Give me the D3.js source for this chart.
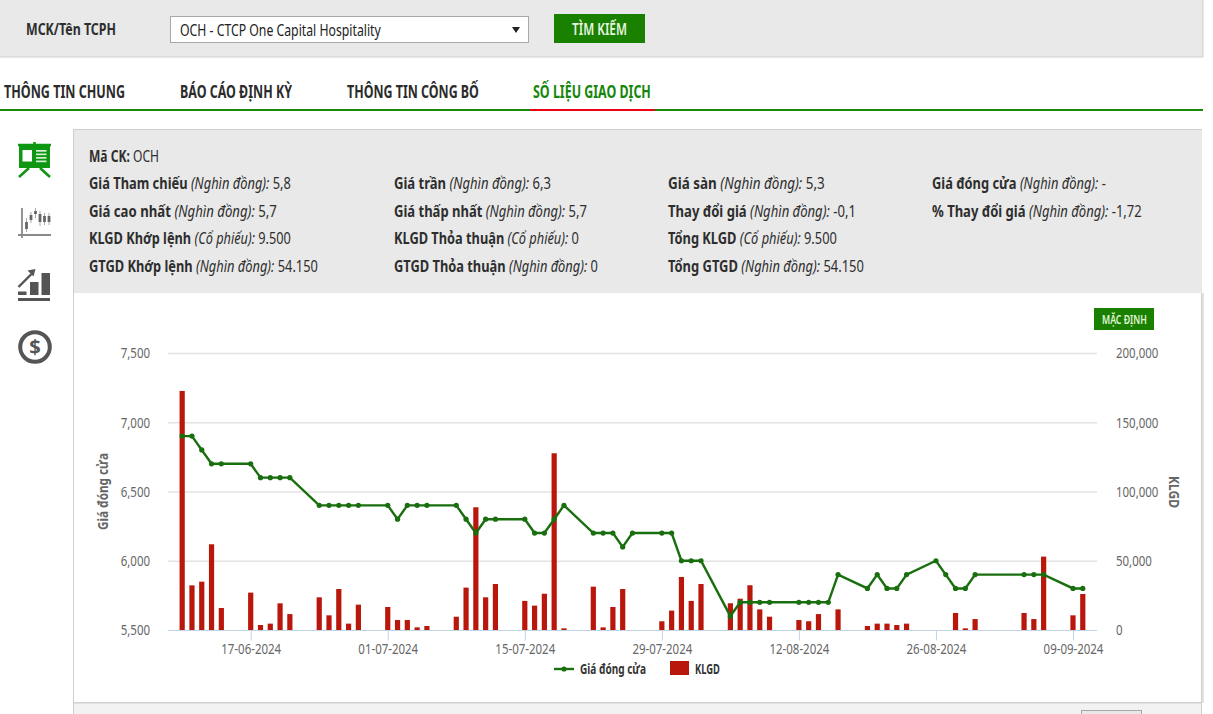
<!DOCTYPE html>
<html><head><meta charset="utf-8">
<script src="https://cdn.jsdelivr.net/npm/d3@7"></script>
<style>
html,body{margin:0;padding:0;background:#fff;overflow:hidden}
text{font-family:"Noto Sans",sans-serif}
</style></head><body><div id="c"></div>
<script>
const dates = ["2024-06-10","2024-06-11","2024-06-12","2024-06-13","2024-06-14","2024-06-17","2024-06-18","2024-06-19","2024-06-20","2024-06-21","2024-06-24","2024-06-25","2024-06-26","2024-06-27","2024-06-28","2024-07-01","2024-07-02","2024-07-03","2024-07-04","2024-07-05","2024-07-08","2024-07-09","2024-07-10","2024-07-11","2024-07-12","2024-07-15","2024-07-16","2024-07-17","2024-07-18","2024-07-19","2024-07-22","2024-07-23","2024-07-24","2024-07-25","2024-07-26","2024-07-29","2024-07-30","2024-07-31","2024-08-01","2024-08-02","2024-08-05","2024-08-06","2024-08-07","2024-08-08","2024-08-09","2024-08-12","2024-08-13","2024-08-14","2024-08-15","2024-08-16","2024-08-19","2024-08-20","2024-08-21","2024-08-22","2024-08-23","2024-08-26","2024-08-27","2024-08-28","2024-08-29","2024-08-30","2024-09-04","2024-09-05","2024-09-06","2024-09-09","2024-09-10"];
const closePrice = [6900,6900,6800,6700,6700,6700,6600,6600,6600,6600,6400,6400,6400,6400,6400,6400,6300,6400,6400,6400,6400,6300,6200,6300,6300,6300,6200,6200,6300,6400,6200,6200,6200,6100,6200,6200,6200,6000,6000,6000,5600,5700,5700,5700,5700,5700,5700,5700,5700,5900,5800,5900,5800,5800,5900,6000,5900,5800,5800,5900,5900,5900,5900,5800,5800];
const volume = [172600,32250,34900,61900,15900,27000,3600,4600,19250,11500,23600,10600,29600,4600,18300,16600,7200,7200,1900,2900,9600,30600,88600,23600,33200,21000,17600,26200,127600,1200,31300,1900,16600,29600,0,6300,14000,38300,21000,33200,19300,22600,32300,14900,9600,7200,6300,11500,0,14900,2900,4600,4600,3600,4600,0,0,12300,1200,7900,12300,7900,53000,10600,26000];
const tickDates = ["2024-06-17","2024-07-01","2024-07-15","2024-07-29","2024-08-12","2024-08-26","2024-09-09"];
const priceTicks = [5500,6000,6500,7000,7500];
const volumeTicks = [0,50000,100000,150000,200000];
const tabs = ["THÔNG TIN CHUNG","BÁO CÁO ĐỊNH KỲ","THÔNG TIN CÔNG BỐ","SỐ LIỆU GIAO DỊCH"];
const infoRows = [
 [["Giá Tham chiếu","(Nghìn đồng):","5,8"],["Giá trần","(Nghìn đồng):","6,3"],["Giá sàn","(Nghìn đồng):","5,3"],["Giá đóng cửa","(Nghìn đồng):","-"]],
 [["Giá cao nhất","(Nghìn đồng):","5,7"],["Giá thấp nhất","(Nghìn đồng):","5,7"],["Thay đổi giá","(Nghìn đồng):","-0,1"],["% Thay đổi giá","(Nghìn đồng):","-1,72"]],
 [["KLGD Khớp lệnh","(Cổ phiếu):","9.500"],["KLGD Thỏa thuận","(Cổ phiếu):","0"],["Tổng KLGD","(Cổ phiếu):","9.500"]],
 [["GTGD Khớp lệnh","(Nghìn đồng):","54.150"],["GTGD Thỏa thuận","(Nghìn đồng):","0"],["Tổng GTGD","(Nghìn đồng):","54.150"]]
];

const tabX = [4,180,347,533], tabEnd = [125,292,479,651];
const infoColX = [89,394,668,932];
const infoRowY = [188.5,216.5,243.5,271.5];
const infoEnd = [[291,551,825,1106],[277,587,856,1142],[291,579,837],[318,598,864]];

const W=1213,H=714;
const GREEN="#1a8000", DARK="#2e2e2e", LINE="#196e0e", RED="#b9170c", GRAY="#666", ICON="#555", ICONG="#0f9612";
const SX=0.765;
const svg=d3.select("#c").append("svg").attr("width",W).attr("height",H).style("display","block");
const rect=(x,y,w,h,f,s)=>svg.append("rect").attr("x",x).attr("y",y).attr("width",w).attr("height",h).attr("fill",f).attr("stroke",s||"none");
const base=(p,t,size,fill,weight,style)=>p.append("text").text(t).attr("font-size",size).attr("fill",fill).attr("font-weight",weight||400).attr("font-style",style||"normal");
// place a text from x to x+w by narrowing its glyphs (the condensed face is not installed)
const fit=(sel,x,y,w)=>{const len=sel.node().getComputedTextLength();return sel.attr("transform",`translate(${x},${y}) scale(${w/len},1)`);};
const txt=(p,x,y,t,size,fill,weight,w,style)=>fit(base(p,t,size,fill,weight,style),x,y,w);

// search bar
rect(-1,-1,1204,58,"#e9e9e9","#cfcfcf");
txt(svg,26,35,"MCK/Tên TCPH",16.5,DARK,700,90);
rect(170.5,16.5,358,26,"#fff","#a9a9a9");
txt(svg,180,36,"OCH - CTCP One Capital Hospitality",16.5,"#222",400,201);
svg.append("path").attr("d","M512 27h8l-4 6z").attr("fill","#222");
rect(554,14,91,29,GREEN);
txt(svg,572,34.5,"TÌM KIẾM",16,"#e8f5e0",600,55);

// tabs
tabs.forEach((t,i)=>txt(svg,tabX[i],97.5,t,18,i==3?"#14860a":"#2b2b2b",700,tabEnd[i]-tabX[i]));
rect(0,109,1203,2,"#178a0a");
rect(530,109,125,2,"#f00010");

// info panel
rect(73.5,129.5,1128,573,"#fff","#cfcfcf");
rect(1202,293,2,410,"#e2e2e2");
rect(74,130,1128,163,"#e9e9e9");
const line0=base(svg,"Mã CK:",16,DARK,700);
line0.append("tspan").attr("font-weight",400).text(" OCH");
fit(line0,89,161.5,70);
infoRows.forEach((row,r)=>row.forEach((c,k)=>{
  const t=base(svg,c[0],16,DARK,700);
  t.append("tspan").attr("font-weight",400).attr("font-style","italic").text(" "+c[1]);
  t.append("tspan").attr("font-weight",400).text(" "+c[2]);
  fit(t,infoColX[k],infoRowY[r],infoEnd[r][k]-infoColX[k]);
}));

// bottom strip
rect(73.5,703,1128,12,"#f2f2f2","#cfcfcf");
rect(1081.5,710.5,60,8,"#e8e8e8","#a8a8a8");

// side icons
const ic=svg.append("g");
ic.append("rect").attr("x",19).attr("y",145).attr("width",31).attr("height",23).attr("fill",ICONG);
ic.append("rect").attr("x",22.5).attr("y",150).attr("width",9.5).attr("height",11.5).attr("fill","#fff");
[150,153.5,157,160.5].forEach(y=>ic.append("rect").attr("x",36).attr("y",y).attr("width",10.5).attr("height",1.7).attr("fill","#d8eed4"));
ic.append("path").attr("d","M34.5 142v3M18 145h33M29 168l-10 9M40 168l10 9").attr("stroke",ICONG).attr("stroke-width",2.6).attr("fill","none");
ic.append("path").attr("d","M22 208v30M18 235h33").attr("stroke","#8a8a8a").attr("stroke-width",1.8).attr("fill","none");
[[26.5,218,232,222,229],[31,212,223,215,220],[35.5,208,218,211,214],[40,211,226,214,222],[44.5,213,225,216,222],[49,213,225,216,222]].forEach(d=>{
  ic.append("path").attr("d",`M${d[0]} ${d[1]}V${d[2]}`).attr("stroke","#aaa").attr("stroke-width",1);
  ic.append("rect").attr("x",d[0]-1.4).attr("y",d[3]).attr("width",2.8).attr("height",d[4]-d[3]).attr("fill","#666");
});
ic.append("path").attr("d","M18 295h8.5v-3.5H18zM30 295h8.5v-13H30zM41.5 295h8.5v-22h-8.5zM18 301h32v-3H18z").attr("fill",ICON);
ic.append("path").attr("d","M18.5 287l13-13").attr("stroke",ICON).attr("stroke-width",2.4).attr("fill","none");
ic.append("path").attr("d","M35.5 269l-8 1.5 6 6z").attr("fill",ICON);
ic.append("circle").attr("cx",35).attr("cy",347).attr("r",14.8).attr("fill","none").attr("stroke",ICON).attr("stroke-width",4);
base(ic,"$",20,ICON,700).attr("text-anchor","middle").attr("x",35).attr("y",354);

// MẶC ĐỊNH button
rect(1094,308,60,22,GREEN);
txt(svg,1102,323.5,"MẶC ĐỊNH",12.5,"#e0f5d8",600,45);

// chart
const parse=d3.utcParse("%Y-%m-%d"), fmtD=d3.utcFormat("%d-%m-%Y");
const L=168,R=1097,T=353,B=630;
const x=d3.scaleUtc().domain([parse(tickDates[0]),parse(tickDates[6])]).range([250.7,1073]);
const yP=d3.scaleLinear().domain([5500,7500]).range([B,T]);
const yV=d3.scaleLinear().domain([0,200000]).range([B,T]);
const pts=dates.map((d,i)=>({d:parse(d),p:closePrice[i],v:volume[i]}));
const num=d3.format(",");
// narrow every axis label about its own anchor
const narrow=g=>g.selectAll("text").attr("font-size",15).attr("fill",GRAY).each(function(){
  const t=d3.select(this),tx=+t.attr("x")||0;
  t.attr("x",tx/SX).attr("transform",`scale(${SX},1)`);
});

const gl=svg.append("g").attr("transform",`translate(${L},0)`)
 .call(d3.axisLeft(yP).tickValues(priceTicks).tickSize(-(R-L)).tickPadding(18).tickFormat(num));
gl.select(".domain").remove();
gl.selectAll("line").attr("stroke","#e3e3e3").attr("stroke-width",1.4);
gl.selectAll(".tick").filter(d=>d===5500).select("line").remove();
narrow(gl);

const gr=svg.append("g").attr("transform",`translate(${R},0)`)
 .call(d3.axisRight(yV).tickValues(volumeTicks).tickSize(0).tickPadding(19).tickFormat(num));
gr.select(".domain").remove();
narrow(gr);

const gx=svg.append("g").attr("transform",`translate(0,${B+0.5})`)
 .call(d3.axisBottom(x).tickValues(tickDates.map(parse)).tickSize(10).tickPadding(3).tickFormat(fmtD).tickSizeOuter(0));
gx.select(".domain").attr("d",`M${L},0H${R}`).attr("stroke","#c3d3e6").attr("stroke-width",1.2);
gx.selectAll("line").attr("stroke","#c3d3e6");
narrow(gx);

svg.append("g").selectAll("rect").data(pts.filter(d=>d.v>0)).join("rect")
 .attr("x",d=>x(d.d)-2.6).attr("width",5.2)
 .attr("y",d=>yV(d.v)).attr("height",d=>B-yV(d.v)).attr("fill",RED);

svg.append("path").datum(pts)
 .attr("d",d3.line().x(d=>x(d.d)).y(d=>yP(d.p)))
 .attr("fill","none").attr("stroke",LINE).attr("stroke-width",2.4);
svg.append("g").selectAll("circle").data(pts).join("circle")
 .attr("cx",d=>x(d.d)).attr("cy",d=>yP(d.p)).attr("r",2.6).attr("fill",LINE);

const tA=base(svg,"Giá đóng cửa",15,GRAY,700).attr("text-anchor","middle");
tA.attr("transform",`translate(108,491.5) rotate(-90) scale(${77/tA.node().getComputedTextLength()},1)`);
const tB=base(svg,"KLGD",15,GRAY,700).attr("text-anchor","middle");
tB.attr("transform",`translate(1169,492) rotate(90) scale(${32/tB.node().getComputedTextLength()},1)`);

// legend
svg.append("path").attr("d","M554 669h20").attr("stroke",LINE).attr("stroke-width",2.4);
svg.append("circle").attr("cx",564).attr("cy",669).attr("r",2.6).attr("fill",LINE);
txt(svg,580,674,"Giá đóng cửa",13.5,"#333",700,66);
rect(670,661,19,14,RED);
txt(svg,695,674,"KLGD",13.5,"#333",700,25);
</script></body></html>
